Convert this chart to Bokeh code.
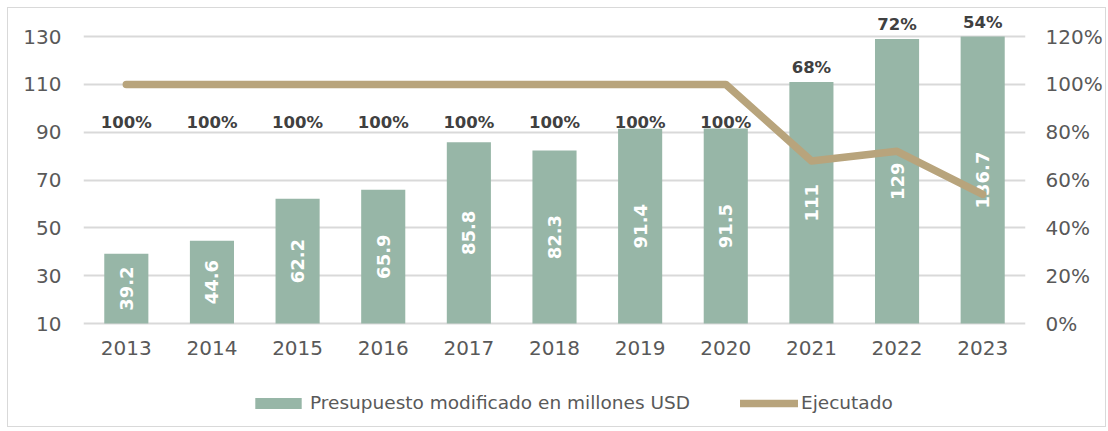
import numpy as np
from bokeh.plotting import figure
from bokeh.models import (Range1d, LinearAxis, FixedTicker, PrintfTickFormatter,
                          Legend, LegendItem, ColumnDataSource, FactorRange)
from bokeh.core.properties import value
from bokeh.embed import file_html
from bokeh.resources import INLINE

# ---------------- data ----------------
years = ["2013", "2014", "2015", "2016", "2017", "2018", "2019", "2020", "2021", "2022", "2023"]
budget = [39.2, 44.6, 62.2, 65.9, 85.8, 82.3, 91.4, 91.5, 111, 129, 136.7]
executed = [100, 100, 100, 100, 100, 100, 100, 100, 68, 72, 54]
left_ticks = [10, 30, 50, 70, 90, 110, 130]
right_ticks = [0, 20, 40, 60, 80, 100, 120]
series_names = ["Presupuesto modificado en millones USD", "Ejecutado"]

# ---------------- style ----------------
FONT = "DejaVu Sans"
BAR_COLOR = "#97b6a7"
LINE_COLOR = "#b8a47c"
GRID_COLOR = "#d9d9d9"
TICK_COLOR = "#595959"
LABEL_COLOR = "#404040"

y_lo, y_axis_max, y_view_max = 10, 130, 138.8
y_view_min = -31.8          # extra room below the axis for labels and legend

bar_top = np.minimum(np.array(budget), y_axis_max)
bar_mid = (bar_top + y_lo) / 2.0
pct_arr = np.array(executed, dtype=float)
# percentage label anchor (left-axis units)
pct_label_y = np.where(pct_arr >= 100, pct_arr - 16 + y_lo, bar_top)
pct_label_off = np.where(pct_arr >= 100, 0, -14)

src = ColumnDataSource(dict(
    year=years,
    top=bar_top,
    mid=bar_mid,
    vlabel=[f"{v:g}" for v in budget],
    pct=executed,
    plabel=[f"{v:g}%" for v in executed],
    ply=pct_label_y,
    ploff=pct_label_off,
))

p = figure(x_range=FactorRange(*years, range_padding=0),
           y_range=Range1d(y_view_min, y_view_max),
           width=1099, height=420,
           output_backend="svg", toolbar_location=None,
           min_border_left=75, min_border_right=82,
           min_border_top=7, min_border_bottom=5)
p.styles = {"border": "1px solid #d9d9d9"}
p.margin = (7, 0, 0, 7)
p.outline_line_color = None
p.background_fill_color = "white"

p.extra_y_ranges = {"pct": Range1d(y_view_min - y_lo, y_view_max - y_lo)}

bars = p.vbar(x="year", top="top", bottom=y_lo, width=0.515, source=src,
              fill_color=BAR_COLOR, line_color=None)

p.text(x="year", y="mid", text="vlabel", source=src, angle=np.pi / 2,
       text_align="center", text_baseline="middle",
       text_font=value(FONT), text_font_style="bold",
       text_font_size="18px", text_color="white")

p.text(x="year", y="ply", text="plabel", y_offset="ploff", source=src,
       text_align="center", text_baseline="middle",
       text_font=value(FONT), text_font_style="bold",
       text_font_size="16.5px", text_color=LABEL_COLOR)

line = p.line(x="year", y="pct", source=src, y_range_name="pct",
              line_color=LINE_COLOR, line_width=7.5,
              line_cap="round", line_join="round")

# axes
p.yaxis.ticker = FixedTicker(ticks=left_ticks)
p.xaxis.fixed_location = y_lo
for ax in [p.yaxis[0], p.xaxis[0]]:
    ax.axis_line_color = None
    ax.major_tick_line_color = None
    ax.minor_tick_line_color = None
    ax.major_tick_out = 0
    ax.minor_tick_out = 0
    ax.major_label_text_font = FONT
    ax.major_label_text_font_size = "20px"
    ax.major_label_text_color = TICK_COLOR
p.yaxis.major_label_standoff = 22
p.xaxis.major_label_standoff = 17

rax = LinearAxis(y_range_name="pct", ticker=FixedTicker(ticks=right_ticks),
                 formatter=PrintfTickFormatter(format="%d%%"))
rax.axis_line_color = None
rax.major_tick_line_color = None
rax.minor_tick_line_color = None
rax.major_tick_out = 0
rax.minor_tick_out = 0
rax.major_label_text_font = FONT
rax.major_label_text_font_size = "20px"
rax.major_label_text_color = TICK_COLOR
rax.major_label_standoff = 20
p.add_layout(rax, "right")

p.xgrid.visible = False
p.ygrid.grid_line_color = GRID_COLOR
p.ygrid.grid_line_width = 2

legend = Legend(items=[LegendItem(label=series_names[0], renderers=[bars]),
                       LegendItem(label=series_names[1], renderers=[line])],
                orientation="horizontal", location=(166, 10),
                glyph_width=58, glyph_height=14, label_standoff=3, spacing=50,
                padding=0, margin=0, border_line_alpha=0, background_fill_alpha=0,
                label_text_font=FONT, label_text_font_size="18.5px",
                label_text_color=TICK_COLOR)
p.add_layout(legend)

open("out.html", "w").write(file_html(p, INLINE))
